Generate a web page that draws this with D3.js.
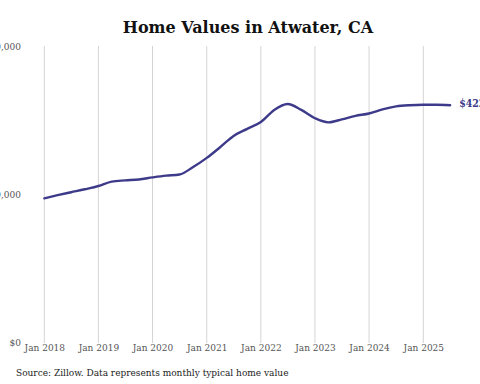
<!DOCTYPE html>
<html><head><meta charset="utf-8">
<script src="https://cdn.jsdelivr.net/npm/d3@7"></script>
<style>body{margin:0;background:#fff}svg{display:block}</style>
</head><body>
<svg id="c" width="480" height="384"></svg>
<script>
const title = "Home Values in Atwater, CA";
const source = "Source: Zillow. Data represents monthly typical home value";
const endLabel = "$422,xxx";
// quarterly observations, Jan 2018 .. Jul 2025
const dates = ["2018-01","2018-04","2018-07","2018-10","2019-01","2019-04","2019-07","2019-10",
 "2020-01","2020-04","2020-07","2020-10","2021-01","2021-04","2021-07","2021-10",
 "2022-01","2022-04","2022-07","2022-10","2023-01","2023-04","2023-07","2023-10",
 "2024-01","2024-04","2024-07","2024-10","2025-01","2025-04","2025-07"];
const values = [242700,248000,253000,258000,263500,271000,273000,274500,
 278000,281000,283000,295500,311000,329000,348000,360000,
 371600,392000,402000,392000,378000,371000,376000,382000,
 386000,393000,398000,400000,400700,400700,400000];
const yTicks = [0,250000,500000];
const yTickLabels = ["$0","$250,000","$500,000"];
const xTicks = ["2018-01","2019-01","2020-01","2021-01","2022-01","2023-01","2024-01","2025-01"];

const parse = d3.timeParse("%Y-%m");
const data = dates.map((d,i)=>({date:parse(d), value:values[i]}));
const svg = d3.select("#c");
const x = d3.scaleTime().domain([parse("2018-01"), parse("2025-01")]).range([44.3, 423.3]);
const y = d3.scaleLinear().domain([0,500000]).range([342,46]);
const serif = "'DejaVu Serif', serif";
const cond = "'DejaVu Serif Condensed', 'DejaVu Serif', serif";

svg.append("text").attr("x",248).attr("y",33).attr("text-anchor","middle")
  .attr("font-family",serif).attr("font-weight","bold").attr("font-size",16).attr("fill","#111")
  .text(title);

// vertical gridlines
svg.append("g").selectAll("line").data(xTicks).join("line")
  .attr("x1",d=>x(parse(d))).attr("x2",d=>x(parse(d)))
  .attr("y1",y(500000)).attr("y2",y(0)+1)
  .attr("stroke","#d4d4d4").attr("stroke-width",1);

const xAxis = d3.axisBottom(x).tickValues(xTicks.map(parse)).tickFormat(d3.timeFormat("Jan %Y")).tickSize(0).tickPadding(0);
const gx = svg.append("g").attr("transform","translate(0,343)").call(xAxis);
gx.select(".domain").remove();
gx.selectAll("text").attr("font-family",cond).attr("font-stretch","condensed").attr("font-size",10).attr("fill","#555").attr("dy","0.8em").attr("y",0);

const yAxis = d3.axisLeft(y).tickValues(yTicks).tickFormat((d,i)=>yTickLabels[i]).tickSize(0).tickPadding(0);
const gy = svg.append("g").attr("transform","translate(21,0)").call(yAxis);
gy.select(".domain").remove();
gy.selectAll("text").attr("font-family",cond).attr("font-stretch","condensed").attr("font-size",10).attr("fill","#555").attr("dy","0.3em");

const line = d3.line().x(d=>x(d.date)).y(d=>y(d.value)).curve(d3.curveMonotoneX);
svg.append("path").datum(data).attr("d",line).attr("fill","none")
  .attr("stroke","#3d3a8a").attr("stroke-width",2.4).attr("stroke-linecap","round");

const last = data[data.length-1];
svg.append("text").attr("x",x(last.date)+9).attr("y",y(last.value)).attr("dy","0.15em")
  .attr("font-family",cond).attr("font-stretch","condensed").attr("font-weight","bold").attr("font-size",10.5).attr("fill","#3d3a8a")
  .text(endLabel);

svg.append("text").attr("x",16).attr("y",376)
  .attr("font-family",cond).attr("font-stretch","condensed").attr("font-size",10).attr("fill","#222")
  .text(source);
</script>
</body></html>
